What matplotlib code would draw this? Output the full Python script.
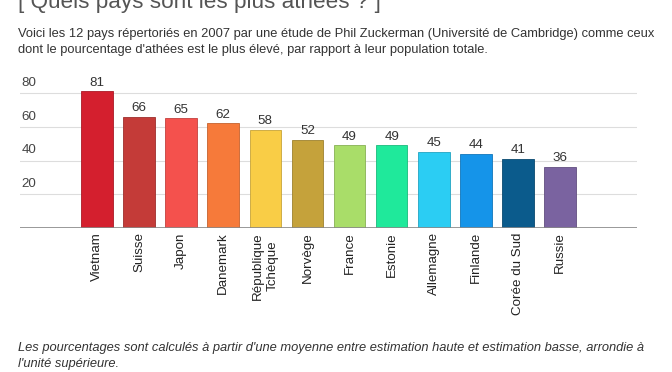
import matplotlib
matplotlib.use('Agg')
import matplotlib.pyplot as plt
import numpy as np

plt.rcParams['font.family'] = ['Liberation Sans', 'DejaVu Sans']

# données
pays = ['Vietnam', 'Suisse', 'Japon', 'Danemark', 'République\nTchèque', 'Norvège',
        'France', 'Estonie', 'Allemagne', 'Finlande', 'Corée du Sud', 'Russie']
pourcentages = [81, 66, 65, 62, 58, 52, 49, 49, 45, 44, 41, 36]
couleurs = ['#d41f2e', '#c43b38', '#f4514d', '#f67a3a', '#f9cd46', '#c5a23b',
            '#a9dd69', '#1fe99b', '#2bcdf3', '#1594e9', '#0b5b8c', '#7a63a0']
graduations = [20, 40, 60, 80]

titre = '[ Quels pays sont les plus athées ? ]'
sous_titre = ("Voici les 12 pays répertoriés en 2007 par une étude de Phil Zuckerman "
              "(Université de Cambridge) comme ceux\n"
              "dont le pourcentage d'athées est le plus élevé, par rapport à leur population totale.")
note = ("Les pourcentages sont calculés à partir d'une moyenne entre estimation haute "
        "et estimation basse, arrondie à\nl'unité supérieure.")

W, H = 672, 372
fig = plt.figure(figsize=(W / 100, H / 100), dpi=100)
fig.patch.set_facecolor('white')

ax = fig.add_axes([20 / W, 1 - 228 / H, 617 / W, 148.5 / H])

x = np.arange(len(pays))
edges = [matplotlib.colors.to_rgb(c) for c in couleurs]
edges = [tuple(v * 0.8 for v in c) for c in edges]
bars = ax.bar(x, pourcentages, width=0.75, color=couleurs, edgecolor=edges,
              linewidth=0.6, zorder=3)
ax.bar_label(bars, padding=2, fontsize=9.6, color='#333333')

ax.set_xlim(-1.83, 12.83)
ax.set_ylim(0, 88)

# grille horizontale + étiquettes au-dessus des lignes
for g in graduations:
    ax.axhline(g, color='#dddddd', lw=0.8, zorder=1)
    ax.annotate(str(g), xy=(0.003, g), xycoords=ax.get_yaxis_transform(),
                xytext=(0, 3), textcoords='offset points',
                ha='left', va='bottom', fontsize=9.6, color='#444444')
ax.axhline(0, color='#888888', lw=1.2, zorder=4)

ax.set_yticks([])
ax.set_xticks(x)
ax.set_xticklabels(pays, rotation=90, fontsize=9.6, color='#222222',
                   va='top', ha='center', linespacing=1.25)
ax.tick_params(axis='x', length=0, pad=3)
for s in ax.spines.values():
    s.set_visible(False)

fig.text(18 / W, 1 - 8 / H, titre, fontsize=16.2, color='#555555', va='baseline')
fig.text(18 / W, 1 - 28 / H, sous_titre, fontsize=9.3, color='#333333',
         va='top', linespacing=1.5)
fig.text(18 / W, 1 - 342 / H, note, fontsize=9.3, color='#333333',
         va='top', style='italic', linespacing=1.5)

fig.savefig('out.png', dpi=100, facecolor='white')
